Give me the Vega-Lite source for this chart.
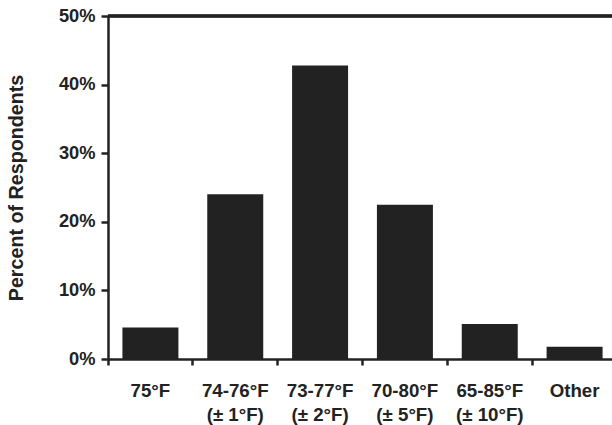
{
  "$schema": "https://vega.github.io/schema/vega-lite/v6.json",
  "width": 504,
  "height": 343,
  "autosize": {"type": "none"},
  "padding": {"left": 108, "top": 16, "right": 0, "bottom": 66},
  "background": "white",
  "config": {
    "view": {"stroke": null},
    "font": "Liberation Sans"
  },
  "data": {
    "values": [
      {"label": "75°F", "pct": 4.6},
      {"label": "74-76°F|(± 1°F)", "pct": 24.0},
      {"label": "73-77°F|(± 2°F)", "pct": 42.8},
      {"label": "70-80°F|(± 5°F)", "pct": 22.5},
      {"label": "65-85°F|(± 10°F)", "pct": 5.1},
      {"label": "Other", "pct": 1.8}
    ]
  },
  "layer": [
    {
      "mark": {"type": "bar", "color": "#222222", "width": {"band": 0.66}},
      "encoding": {
        "x": {
          "field": "label",
          "type": "nominal",
          "sort": null,
          "scale": {"paddingInner": 0, "paddingOuter": 0, "range": [0, 509]},
          "axis": {
            "title": null,
            "labelAngle": 0,
            "bandPosition": 0,
            "labelExpr": "split(datum.label, '|')",
            "labelFont": "Liberation Sans",
            "labelFontSize": 18.7,
            "labelFontWeight": "bold",
            "labelColor": "#222222",
            "labelLineHeight": 24,
            "labelPadding": 16,
            "labelBaseline": "top",
            "tickSize": 6,
            "tickWidth": 2.5,
            "tickColor": "#222222",
            "domainColor": "#222222",
            "domainWidth": 2.5
          }
        },
        "y": {
          "field": "pct",
          "type": "quantitative",
          "scale": {"domain": [0, 50], "nice": false},
          "axis": {
            "title": "Percent of Respondents",
            "titleFont": "Liberation Sans",
            "titleFontSize": 19.7,
            "titleFontWeight": "bold",
            "titleColor": "#222222",
            "titlePadding": 32,
            "values": [0, 10, 20, 30, 40, 50],
            "labelExpr": "datum.value + '%'",
            "labelFont": "Liberation Sans",
            "labelFontSize": 18.3,
            "labelFontWeight": "bold",
            "labelColor": "#222222",
            "labelPadding": 6,
            "tickSize": 7,
            "tickWidth": 2.5,
            "tickColor": "#222222",
            "domainColor": "#222222",
            "domainWidth": 2.5,
            "grid": false
          }
        }
      }
    },
    {
      "mark": {"type": "rule", "color": "#222222", "strokeWidth": 2.5},
      "encoding": {"y": {"datum": 50}}
    }
  ]
}
